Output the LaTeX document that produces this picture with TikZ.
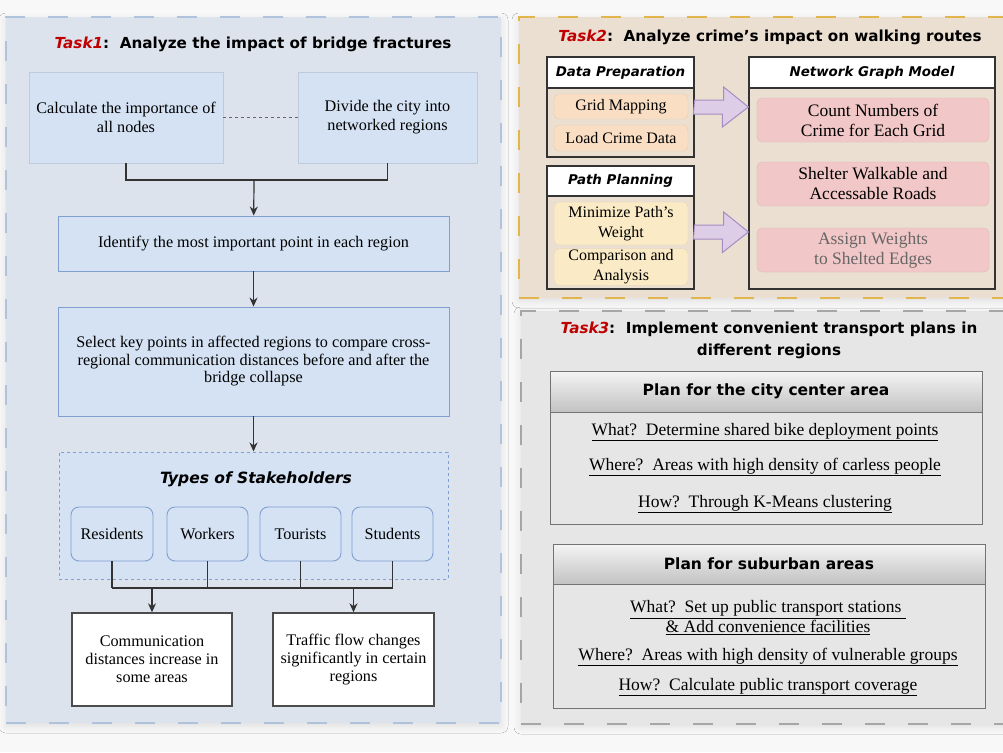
\documentclass[tikz,border=0pt]{standalone}
\usepackage{fontspec}
\setmainfont{Liberation Serif}
\setsansfont{DejaVu Sans}
\usetikzlibrary{arrows.meta,shadows.blur}

\definecolor{pagebg}{HTML}{F8F8F8}
\definecolor{taskred}{HTML}{C00000}
\definecolor{oneline}{HTML}{AFC3DC}
\definecolor{onefill}{HTML}{DCE3EC}
\definecolor{boxblue}{HTML}{D4E2F4}
\definecolor{boxline}{HTML}{7F9FD0}
\definecolor{twoline}{HTML}{E2B64C}
\definecolor{twofill}{HTML}{EBDFD2}
\definecolor{peach}{HTML}{F9DEC4}
\definecolor{pale}{HTML}{FAEBC6}
\definecolor{pink}{HTML}{F2C7C7}
\definecolor{lilac}{HTML}{DDCDE6}
\definecolor{lilacline}{HTML}{A68CC2}
\definecolor{threeline}{HTML}{A6A6A6}
\definecolor{threefill}{HTML}{E6E6E6}
\definecolor{hdtop}{HTML}{F4F4F4}
\definecolor{hdbot}{HTML}{C2C2C2}

\begin{document}
\begin{tikzpicture}[x=1pt,y=-1pt,>={Stealth[length=9pt,width=8pt]},
  panel/.style={draw,line width=2.5pt,dash pattern=on 20pt off 23pt,
    blur shadow={shadow xshift=0pt,shadow yshift=-3pt,shadow blur radius=7pt,shadow opacity=10}},
  tasktitle/.style={font=\sffamily\bfseries\fontsize{15.2}{22}\selectfont,align=center},
  txt/.style={font=\fontsize{16.2}{18}\selectfont,align=center,inner sep=1pt},
  bigtxt/.style={font=\fontsize{17.5}{20}\selectfont,align=center,inner sep=1pt},
  bluebox/.style={txt,draw=boxline,fill=boxblue,line width=0.9pt},
  plainblue/.style={txt,font=\fontsize{16.2}{19}\selectfont,fill=boxblue,draw=boxblue!90!black,line width=0.3pt},
  whitebox/.style={txt,draw=black!70,fill=white,line width=1.4pt},
  person/.style={bluebox,rounded corners=8pt,minimum width=81pt,minimum height=54pt},
  groupbox/.style={draw=black!80,line width=1.2pt,fill=twofill},
  grouphead/.style={draw=black!80,line width=1.2pt,fill=white,
    font=\sffamily\bfseries\itshape\fontsize{13.4}{16}\selectfont},
  soft/.style={txt,font=\fontsize{16}{20}\selectfont,rounded corners=5pt,draw=#1!90!black,line width=0.3pt,fill=#1},
  bigarrow/.style={fill=lilac,draw=lilacline,line width=1pt,line join=miter},
  planhead/.style={draw=black!55,line width=1pt,top color=hdtop,bottom color=hdbot,
    font=\sffamily\bfseries\fontsize{15.5}{18}\selectfont,minimum width=432pt},
  planbody/.style={draw=black!55,line width=1pt,fill=threefill,minimum width=432pt},
  link/.style={draw=black!80,line width=1.2pt}]

\useasboundingbox (0,0) rectangle (1003,752);
\fill[pagebg] (0,0) rectangle (1003,752);

% task 1
\node[panel,draw=oneline,fill=onefill,minimum width=495pt,minimum height=706pt] (p1) at (253.5,370) {};
\node[tasktitle] (t1) at (253,44) {\textcolor{taskred}{\textit{Task1}}:~~Analyze the impact of bridge fractures};

\node[plainblue,minimum width=194pt,minimum height=91pt] (imp) at (126,117.5) {Calculate the importance of\\all nodes};
\node[plainblue,minimum width=179pt,minimum height=91pt] (div) at (387.5,117.5) {Divide the city into\\networked regions};
\draw[black!60,line width=1.2pt,dash pattern=on 3pt off 3pt] (imp) -- (div);

\node[bluebox,minimum width=391pt,minimum height=55pt] (most) at (253.5,243.5) {Identify the most important point in each region};
\node[bluebox,minimum width=391pt,minimum height=109pt,font=\fontsize{16.2}{17.5}\selectfont] (key) at (253.5,361.5)
  {Select key points in affected regions to compare cross-\\regional communication distances before and after the\\bridge collapse};

\coordinate (j1) at (254,180);
\draw[link] (imp.south) |- (j1) -| (div.south);
\draw[link,->] (j1) -- (most);
\draw[link,->] (most) -- (key);

\node[draw=boxline,fill=boxblue,line width=1pt,dash pattern=on 3pt off 3pt,
  minimum width=389pt,minimum height=127pt] (stake) at (253.5,515.5) {};
\node[font=\sffamily\bfseries\itshape\fontsize{15.5}{18}\selectfont] (staket) at (256,479) {Types of Stakeholders};
\draw[link,->] (key) -- (stake);

\node[person,minimum width=82pt] (res) at (112,534) {Residents};
\node[person] (wor) at (207.5,534) {Workers};
\node[person] (tou) at (300.5,534) {Tourists};
\node[person] (stu) at (392.5,534) {Students};

\node[whitebox,minimum width=160pt,minimum height=93pt] (dist) at (152,659.5) {Communication\\distances increase in\\some areas};
\node[whitebox,minimum width=161pt,minimum height=93pt] (flow) at (353.5,659.5) {Traffic flow changes\\significantly in certain\\regions};

\coordinate (j2) at (254,588);
\foreach \p in {res,wor,tou,stu}
  \draw[link] (\p.south) -- (\p.south |- j2);
\draw[link] (res.south |- j2) -- (stu.south |- j2);
\draw[link,->] (dist.north |- j2) -- (dist.north);
\draw[link,->] (flow.north |- j2) -- (flow.north);

% task 2
\node[panel,draw=twoline,fill=twofill,minimum width=491pt,minimum height=281pt] (p2) at (764.5,157.5) {};
\node[tasktitle] (t2) at (770,37) {\textcolor{taskred}{\textit{Task2}}:~~Analyze crime's impact on walking routes};

\node[groupbox,minimum width=147pt,minimum height=100pt] (prep) at (620.5,107) {};
\node[grouphead,minimum width=147pt,minimum height=31pt] (preph) at (620.5,72.5) {Data Preparation};
\node[soft=peach,minimum width=134pt,minimum height=25pt] (grid) at (621,106.5) {Grid Mapping};
\node[soft=peach,minimum width=134pt,minimum height=26pt] (load) at (621,138) {Load Crime Data};

\node[groupbox,minimum width=147pt,minimum height=123pt] (plan) at (620.5,227.5) {};
\node[grouphead,minimum width=147pt,minimum height=30pt] (planh) at (620.5,181) {Path Planning};
\node[soft=pale,minimum width=134pt,minimum height=43pt] (mini) at (621,223.5) {Minimize Path's\\Weight};
\node[soft=pale,minimum width=134pt,minimum height=34pt] (comp) at (621,267) {Comparison and\\Analysis};

\node[groupbox,minimum width=246pt,minimum height=232pt] (net) at (872,173) {};
\node[grouphead,minimum width=246pt,minimum height=31pt] (neth) at (872,72.5) {Network Graph Model};
\node[soft=pink,bigtxt,minimum width=232pt,minimum height=44pt] (count) at (873,120) {Count Numbers of\\Crime for Each Grid};
\node[soft=pink,bigtxt,minimum width=232pt,minimum height=44pt] (shel) at (873,184) {Shelter Walkable and\\Accessable Roads};
\node[soft=pink,bigtxt,minimum width=232pt,minimum height=44pt,text=black!60] (assi) at (873,250) {Assign Weights\\to Shelted Edges};

\draw[bigarrow] (prep.east) ++(0,-7) -- ++(29,0) -- ++(0,-13) -- (net.west |- prep.east)
  -- ++(-26,20) -- ++(0,-13) -- ++(-29,0) -- cycle;
\draw[bigarrow] ([yshift=-4.5pt]plan.east) ++(0,-7) -- ++(29,0) -- ++(0,-13) -- (net.west |- 0,232)
  -- ++(-26,20.5) -- ++(0,-13.5) -- ++(-29,0) -- cycle;

% task 3
\node[panel,draw=threeline,fill=threefill,minimum width=489pt,minimum height=413pt] (p3) at (765.5,517.5) {};
\node[tasktitle] (t3) at (769,340) {\textcolor{taskred}{\textit{Task3}}:~~Implement convenient transport plans in\\different regions};

\node[planbody,minimum height=153pt] (city) at (766,447.5) {};
\node[planhead,minimum height=41pt] (cityh) at (766,391.5) {Plan for the city center area};
\node[bigtxt] (c1) at (765,432) {\underline{What?~~Determine shared bike deployment points}};
\node[bigtxt] (c2) at (765,467) {\underline{Where?~~Areas with high density of carless people}};
\node[bigtxt] (c3) at (765,504) {\underline{How?~~Through K-Means clustering}};

\node[planbody,minimum height=164pt] (sub) at (769,626) {};
\node[planhead,minimum height=40pt] (subh) at (769,564) {Plan for suburban areas};
\node[bigtxt] (s1) at (768,618) {\underline{What?~~Set up public transport stations~}\\\underline{\&~Add convenience facilities}};
\node[bigtxt] (s2) at (768,657) {\underline{Where?~~Areas with high density of vulnerable groups}};
\node[bigtxt] (s3) at (768,687) {\underline{How?~~Calculate public transport coverage}};
\end{tikzpicture}
\end{document}
